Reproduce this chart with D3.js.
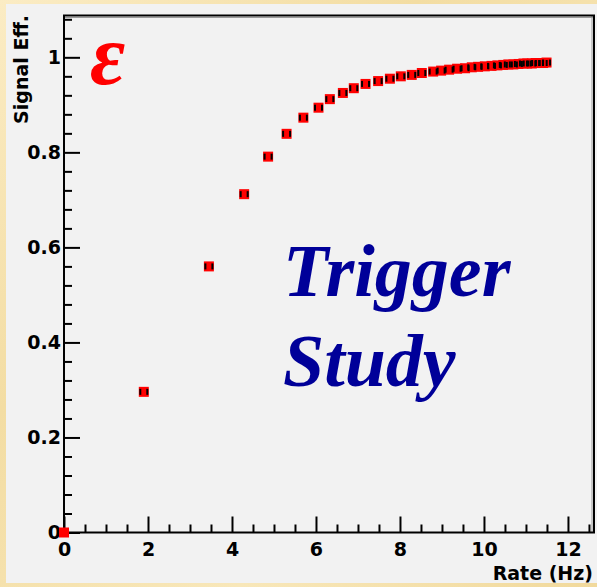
<!DOCTYPE html>
<html>
<head>
<meta charset="utf-8">
<script src="https://cdn.jsdelivr.net/npm/d3@7"></script>
<style>
  html, body { margin: 0; padding: 0; background: #f6e4b0; }
  svg { display: block; }
</style>
</head>
<body>
<svg id="chart" width="597" height="587"></svg>
<script>
// Trigger efficiency vs. output rate
const rateHz = [0.00, 1.90, 3.45, 4.29, 4.86, 5.30, 5.70, 6.06, 6.33, 6.64, 6.90, 7.18,
  7.48, 7.76, 8.02, 8.28, 8.52, 8.79, 8.98, 9.17, 9.36, 9.55, 9.71, 9.86, 10.02,
  10.18, 10.32, 10.46, 10.58, 10.70, 10.82, 10.94, 11.03, 11.14, 11.23, 11.32, 11.41, 11.49];
const signalEff = [0.000, 0.296, 0.560, 0.712, 0.791, 0.839, 0.873, 0.894, 0.912, 0.925, 0.935, 0.944,
  0.950, 0.955, 0.960, 0.963, 0.967, 0.970, 0.972, 0.974, 0.976, 0.977, 0.979, 0.980, 0.981,
  0.982, 0.983, 0.984, 0.985, 0.985, 0.986, 0.987, 0.987, 0.987, 0.988, 0.988, 0.988, 0.989];
const yMajorTicks = [0, 0.2, 0.4, 0.6, 0.8, 1];
const yTickLabels = ["0", "0.2", "0.4", "0.6", "0.8", "1"];
const xMajorTicks = [0, 2, 4, 6, 8, 10, 12];
const xTickLabels = ["0", "2", "4", "6", "8", "10", "12"];

const svg = d3.select("#chart");
const W = 597, H = 587;
const frame = { left: 64, right: 594, top: 15.5, bottom: 532.5 };

// parchment surround
const defs = svg.append("defs");
const grad = defs.append("linearGradient").attr("id", "parch")
  .attr("x1", 0).attr("y1", 0).attr("x2", 1).attr("y2", 1);
grad.append("stop").attr("offset", "0%").attr("stop-color", "#fbecc4");
grad.append("stop").attr("offset", "35%").attr("stop-color", "#f3dda3");
grad.append("stop").attr("offset", "70%").attr("stop-color", "#f8e7b9");
grad.append("stop").attr("offset", "100%").attr("stop-color", "#f1d99c");
svg.append("rect").attr("width", W).attr("height", H).attr("fill", "url(#parch)");

// canvas pad
svg.append("rect").attr("x", 6).attr("y", 4).attr("width", 591).attr("height", 579)
  .attr("fill", "#f2f2f2");

const x = d3.scaleLinear().domain([0, 12.62]).range([frame.left, frame.right]);
const y = d3.scaleLinear().domain([0, 1.088]).range([frame.bottom, frame.top]);

const font = "'DejaVu Sans', Verdana, sans-serif";
const fs = 19;

// frame (top/right with a soft inner shadow)
svg.append("line").attr("x1", frame.left).attr("x2", frame.right)
  .attr("y1", frame.top + 2).attr("y2", frame.top + 2).attr("stroke", "#9a9a9a").attr("stroke-width", 1);
svg.append("line").attr("x1", frame.right - 2).attr("x2", frame.right - 2)
  .attr("y1", frame.top).attr("y2", frame.bottom).attr("stroke", "#9a9a9a").attr("stroke-width", 1);
svg.append("rect").attr("x", frame.left).attr("y", frame.top)
  .attr("width", frame.right - frame.left).attr("height", frame.bottom - frame.top)
  .attr("fill", "none").attr("stroke", "#000").attr("stroke-width", 2);

// y axis: minor then major ticks, pointing into the frame
const yMinor = d3.range(0, 1.081, 0.04).filter(v => Math.abs(v * 5 - Math.round(v * 5)) > 1e-6);
svg.append("g").attr("transform", `translate(${frame.left},0)`)
  .call(d3.axisLeft(y).tickValues(yMinor).tickSize(-8).tickSizeOuter(0).tickFormat(""))
  .call(g => g.select(".domain").remove())
  .call(g => g.selectAll("line").attr("stroke-width", 2));
svg.append("g").attr("transform", `translate(${frame.left},0)`)
  .call(d3.axisLeft(y).tickValues(yMajorTicks).tickSize(-16).tickSizeOuter(0).tickPadding(3)
    .tickFormat((d, i) => yTickLabels[i]))
  .call(g => g.select(".domain").remove())
  .call(g => g.selectAll("line").attr("stroke-width", 2))
  .call(g => g.selectAll("text").attr("font-family", font).attr("font-weight", "bold")
    .attr("font-size", fs).attr("fill", "#000"));

// x axis
const xMinor = d3.range(0, 12.6, 0.5).filter(v => Math.abs(v / 2 - Math.round(v / 2)) > 1e-6);
svg.append("g").attr("transform", `translate(0,${frame.bottom})`)
  .call(d3.axisBottom(x).tickValues(xMinor).tickSize(-8).tickSizeOuter(0).tickFormat(""))
  .call(g => g.select(".domain").remove())
  .call(g => g.selectAll("line").attr("stroke-width", 2));
svg.append("g").attr("transform", `translate(0,${frame.bottom})`)
  .call(d3.axisBottom(x).tickValues(xMajorTicks).tickSize(-16).tickSizeOuter(0).tickPadding(10)
    .tickFormat((d, i) => xTickLabels[i]))
  .call(g => g.select(".domain").remove())
  .call(g => g.selectAll("line").attr("stroke-width", 2))
  .call(g => g.selectAll("text").attr("font-family", font).attr("font-weight", "bold")
    .attr("font-size", fs).attr("fill", "#000"));

// axis titles
svg.append("text").attr("x", 593).attr("y", 580).attr("text-anchor", "end")
  .attr("font-family", font).attr("font-weight", "bold").attr("font-size", fs)
  .text("Rate (Hz)");
svg.append("text").attr("transform", "translate(28,15) rotate(-90)").attr("text-anchor", "end")
  .attr("font-family", font).attr("font-weight", "bold").attr("font-size", fs)
  .text("Signal Eff.");

// data points: red squares with short x-error caps
const pts = rateHz.map((r, i) => ({ r, e: signalEff[i] }));
const ms = 10;
svg.append("g").selectAll("rect").data(pts).join("rect")
  .attr("x", d => x(d.r) - ms / 2).attr("y", d => y(d.e) - ms / 2)
  .attr("width", ms).attr("height", ms).attr("fill", "#ff0000");
const caps = svg.append("g").attr("fill", "#000");
caps.selectAll("rect.l").data(pts.slice(1)).join("rect").attr("class", "l")
  .attr("x", d => x(d.r) - 4.5).attr("y", d => y(d.e) - 3)
  .attr("width", 2).attr("height", 6);
caps.selectAll("rect.r").data(pts.slice(1)).join("rect").attr("class", "r")
  .attr("x", d => x(d.r) + 2.5).attr("y", d => y(d.e) - 3)
  .attr("width", 2).attr("height", 6);

// annotations
const serif = "'Liberation Serif', 'Times New Roman', Times, serif";
svg.append("text").attr("x", 90).attr("y", 84)
  .attr("font-family", serif).attr("font-style", "italic").attr("font-weight", "bold")
  .attr("font-size", 86).attr("fill", "#ff0000").text("ε");
svg.append("text").attr("x", 283).attr("y", 296)
  .attr("font-family", serif).attr("font-style", "italic").attr("font-weight", "bold")
  .attr("font-size", 74).attr("fill", "#000099").text("Trigger");
svg.append("text").attr("x", 283).attr("y", 386)
  .attr("font-family", serif).attr("font-style", "italic").attr("font-weight", "bold")
  .attr("font-size", 74).attr("fill", "#000099").text("Study");
</script>
</body>
</html>
